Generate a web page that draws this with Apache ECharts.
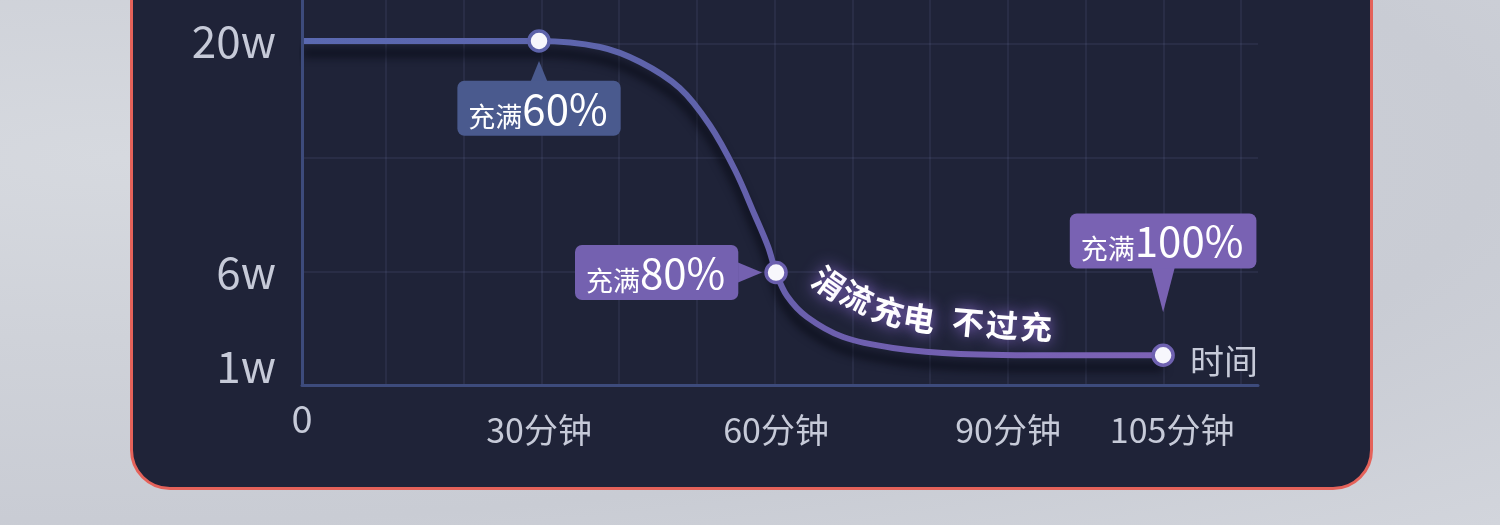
<!DOCTYPE html>
<html>
<head>
<meta charset="utf-8">
<script src="https://cdn.jsdelivr.net/npm/echarts@6/dist/echarts.min.js"></script>
<style>
html,body{margin:0;padding:0;width:1500px;height:525px;overflow:hidden;background:#cdd0d7;}
#bg{position:absolute;left:0;top:0;width:1500px;height:525px;
 background:radial-gradient(ellipse at 8% 30%, #d6d9df 0%, #cfd2d9 35%, #c9ccd4 70%, #d2d5dc 100%);}
#panel{position:absolute;left:130px;top:-60px;width:1243px;height:550px;box-sizing:border-box;
 border:3px solid #e4625a;border-radius:40px;background:#1f2338;}
#chart{position:absolute;left:0;top:0;width:1500px;height:525px;}
</style>
</head>
<body>
<div id="bg"></div>
<div id="panel"></div>
<div id="chart"></div>
<script>
// ---------- data ----------
const timeTicks = [0, 30, 60, 90, 105];            // minutes
const powerTicks = [1, 6, 20];                     // watts
const curveMinutes = [0, 30, 37.7, 42.8, 47.8, 51.6, 54.8, 57.3, 59.0, 60, 61.4, 63.9, 68.5, 74.8, 83.3, 94.7, 105];
const curveWatts   = [20, 20, 19.64, 18.73, 17.16, 14.92, 12.2, 9.48, 7.55, 6, 4.58, 3.32, 2.1, 1.44, 1.08, 1.0, 1.0];
const milestoneMinutes = [30, 60, 105];
const milestoneWatts   = [20, 6, 1];
const milestoneLabels  = ['60%', '80%', '100%'];
const milestonePrefix  = '充满';
const timeUnit = '分钟';
const powerUnit = 'w';
const axisName = '时间';
const noteChars = ['涓', '流', '充', '电', '不', '过', '充'];

// ---------- axis scale (the time axis is stretched after 90 min, as in the picture) ----------
const X_BREAK = 90, X_STRETCH = 1.266;
function toAxisX(m) { return m <= X_BREAK ? m : X_BREAK + (m - X_BREAK) * X_STRETCH; }
function fromAxisX(v) { return v <= X_BREAK ? v : X_BREAK + (v - X_BREAK) / X_STRETCH; }

const FONT = '"Noto Sans CJK SC", "Noto Sans", sans-serif';
const LABEL_COLOR = '#c6cad8';
const AXIS_COLOR = '#3d4b7c';
const GRID_COLOR = 'rgba(120,132,175,0.16)';

const chart = echarts.init(document.getElementById('chart'), null, {renderer: 'canvas'});

const lineData = curveMinutes.map((m, i) => [toAxisX(m), curveWatts[i]]);

const boxColors = ['#4a5a8e', '#7461b0', '#7962b3'];
const borderColors = ['#5d63aa', '#6a5fae', '#6f62b1'];
const labelPlace = [
  {position: 'bottom', distance: 28},
  {position: 'left', distance: 26},
  {position: 'top', distance: 75}
];
const pointerStyle = [
  {symbolSize: [18, 22], symbolRotate: 0, symbolOffset: [0, 31]},
  {symbolSize: [20, 24], symbolRotate: -90, symbolOffset: [-26, 0]},
  {symbolSize: [24, 46], symbolRotate: 180, symbolOffset: [0, -66]}
];

const markerData = milestoneMinutes.map((m, i) => ({
  value: [toAxisX(m), milestoneWatts[i]],
  itemStyle: {color: '#f7f7fc', borderColor: borderColors[i], borderWidth: 3.5, opacity: 1},
  label: {
    show: true,
    position: labelPlace[i].position,
    distance: labelPlace[i].distance,
    formatter: '{a|' + milestonePrefix + '}{b|' + milestoneLabels[i] + '}',
    backgroundColor: boxColors[i],
    borderRadius: 7,
    padding: [7, 13, 6, 11],
    rich: {
      a: {fontFamily: FONT, fontSize: 27, color: '#ffffff', verticalAlign: 'bottom', lineHeight: 42},
      b: {fontFamily: FONT, fontSize: 42, color: '#ffffff', verticalAlign: 'bottom', lineHeight: 42}
    }
  }
}));

const pointerData = milestoneMinutes.map((m, i) => ({
  value: [toAxisX(m), milestoneWatts[i]],
  symbolSize: pointerStyle[i].symbolSize,
  symbolRotate: pointerStyle[i].symbolRotate,
  symbolOffset: pointerStyle[i].symbolOffset,
  itemStyle: {color: boxColors[i], opacity: 1}
}));

const option = {
  animation: false,
  grid: [
    {left: 302, right: 242, top: 0, bottom: 140},
    {left: 386, right: 259, top: 0, bottom: 140},
    {left: 302, right: 242, top: 44, bottom: 140}
  ],
  xAxis: [
    {
      type: 'value', gridIndex: 0, min: 0, max: 121, z: 5,
      axisLine: {show: true, onZero: false, lineStyle: {color: AXIS_COLOR, width: 3}},
      axisTick: {show: false},
      splitLine: {show: false},
      name: axisName, nameLocation: 'end', nameGap: 0,
      nameTextStyle: {fontFamily: FONT, fontSize: 34, color: LABEL_COLOR, align: 'right', verticalAlign: 'bottom', padding: [0, 0, 7, 0]},
      axisLabel: {
        customValues: timeTicks.map(toAxisX),
        margin: 14,
        formatter: v => {
          const m = Math.round(fromAxisX(v));
          if (m === 0) return '{z|0}';
          if (m === 90) return '{l|' + m + timeUnit + '}';
          if (m === 105) return '{r|' + m + timeUnit + '}';
          return '{t|' + m + timeUnit + '}';
        },
        rich: {
          z: {fontFamily: FONT, fontSize: 38, color: LABEL_COLOR, lineHeight: 40},
          t: {fontFamily: FONT, fontSize: 34, color: LABEL_COLOR, lineHeight: 62},
          l: {fontFamily: FONT, fontSize: 34, color: LABEL_COLOR, lineHeight: 62, padding: [0, 10, 0, 0]},
          r: {fontFamily: FONT, fontSize: 34, color: LABEL_COLOR, lineHeight: 62, padding: [0, 0, 0, 18]}
        }
      }
    },
    {
      type: 'value', gridIndex: 1, min: 0, max: 11, interval: 1, z: 0,
      axisLine: {show: false}, axisTick: {show: false}, axisLabel: {show: false},
      splitLine: {show: true, lineStyle: {color: GRID_COLOR, width: 1.5}}
    },
    {
      type: 'value', gridIndex: 2, min: 0, max: 1, z: 0,
      axisLine: {show: false}, axisTick: {show: false}, axisLabel: {show: false}, splitLine: {show: false}
    }
  ],
  yAxis: [
    {
      type: 'value', gridIndex: 0, min: -0.8, max: 22.48, z: 5,
      axisLine: {show: true, onZero: false, lineStyle: {color: AXIS_COLOR, width: 3}},
      axisTick: {show: false},
      splitLine: {show: false},
      axisLabel: {
        customValues: powerTicks,
        margin: 26,
        formatter: v => v === powerTicks[0] ? '{low|' + v + powerUnit + '}' : '{n|' + v + powerUnit + '}',
        rich: {
          n: {fontFamily: FONT, fontSize: 44, color: LABEL_COLOR},
          low: {fontFamily: FONT, fontSize: 44, color: LABEL_COLOR, padding: [22, 0, 0, 0]}
        }
      }
    },
    {
      type: 'value', gridIndex: 1, min: 0, max: 1, z: 0,
      axisLine: {show: false}, axisTick: {show: false}, axisLabel: {show: false}, splitLine: {show: false}
    },
    {
      type: 'value', gridIndex: 2, min: 0, max: 3, interval: 1, z: 0,
      axisLine: {show: false}, axisTick: {show: false}, axisLabel: {show: false},
      splitLine: {show: true, lineStyle: {color: GRID_COLOR, width: 1.5}}
    }
  ],
  series: [
    {
      type: 'line', xAxisIndex: 0, yAxisIndex: 0, z: 3,
      data: lineData,
      smooth: 0.35,
      showSymbol: false, symbol: 'none',
      lineStyle: {
        width: 6,
        color: new echarts.graphic.LinearGradient(0, 0, 1, 0, [
          {offset: 0, color: '#5a69b1'},
          {offset: 0.45, color: '#5f63ab'},
          {offset: 0.6, color: '#6c5fae'},
          {offset: 1, color: '#7e63b6'}
        ]),
        shadowColor: 'rgba(3,5,15,0.85)',
        shadowBlur: 10,
        shadowOffsetY: 12
      }
    },
    {
      type: 'scatter', xAxisIndex: 0, yAxisIndex: 0, z: 4,
      symbol: 'triangle',
      data: pointerData,
      silent: true
    },
    {
      type: 'scatter', xAxisIndex: 0, yAxisIndex: 0, z: 6,
      symbol: 'circle', symbolSize: 20,
      data: markerData,
      silent: true
    }
  ]
};
chart.setOption(option);

// trickle-charging note following the curve (annotation text)
const notePos = [
  [829, 283, 35], [857, 297, 27], [888, 311, 17], [919, 318, 9],
  [968, 322, 5], [1002, 325, 4], [1036, 327, 3]
];
chart.setOption({
  graphic: noteChars.map((ch, i) => ({
    type: 'text', z: 100,
    x: notePos[i][0], y: notePos[i][1],
    rotation: -notePos[i][2] * Math.PI / 180,
    style: {
      text: ch, fontFamily: FONT, fontSize: 32, fontWeight: 'bold',
      fill: '#ffffff', align: 'center', verticalAlign: 'middle',
      textShadowColor: 'rgba(165,125,245,0.95)', textShadowBlur: 16
    }
  }))
});
</script>
</body>
</html>
